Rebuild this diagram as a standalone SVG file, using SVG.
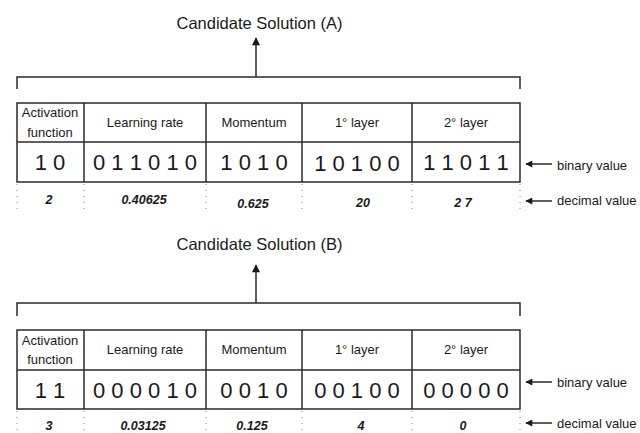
<svg xmlns="http://www.w3.org/2000/svg" width="640" height="433" viewBox="0 0 640 433">
<defs>
<style>
.t{font-family:"Liberation Sans",Arial,sans-serif;fill:#1a1a1a}
.title{font-size:16.5px;text-anchor:middle}
.hd{font-size:13px;text-anchor:middle}
.bin{font-size:22px;text-anchor:middle}
.dec{font-size:12.5px;font-weight:bold;font-style:italic;text-anchor:middle}
.lab{font-size:13px}
.ln{stroke:#2a2a2a;stroke-width:1.5;fill:none}
.dot{stroke:#888;stroke-width:1;stroke-dasharray:1 5;fill:none}
</style>
<marker id="ah" viewBox="0 0 10 10" refX="9" refY="5" markerWidth="9" markerHeight="7" markerUnits="userSpaceOnUse" orient="auto">
<path d="M0,0 L10,5 L0,10 z" fill="#1a1a1a"/>
</marker>
<marker id="ah2" viewBox="0 0 10 10" refX="9" refY="5" markerWidth="11" markerHeight="8" markerUnits="userSpaceOnUse" orient="auto">
<path d="M0,0 L10,5 L0,10 z" fill="#1a1a1a"/>
</marker>
</defs>

<g id="solutionA">
<text class="t title" x="259.5" y="29">Candidate Solution (A)</text>
<g id="tableA">
<rect class="ln" x="17" y="103" width="503" height="79"/>
<line class="ln" x1="17" y1="142" x2="520" y2="142"/>
<line class="ln" x1="84" y1="103" x2="84" y2="182"/>
<line class="ln" x1="206" y1="103" x2="206" y2="182"/>
<line class="ln" x1="302" y1="103" x2="302" y2="182"/>
<line class="ln" x1="412" y1="103" x2="412" y2="182"/>
<text class="t hd" x="50" y="117">Activation</text>
<text class="t hd" x="50" y="137">function</text>
<text class="t hd" x="145" y="127">Learning rate</text>
<text class="t hd" x="254" y="127">Momentum</text>
<text class="t hd" x="357" y="127">1° layer</text>
<text class="t hd" x="466" y="127">2° layer</text>
<text class="t bin" x="50" y="170">1 0</text>
<text class="t bin" x="145" y="170">0 1 1 0 1 0</text>
<text class="t bin" x="254" y="170">1 0 1 0</text>
<text class="t bin" x="357" y="171">1 0 1 0 0</text>
<text class="t bin" x="466" y="170">1 1 0 1 1</text>
</g>
<g id="decimalsA">
<text class="t dec" x="49" y="204">2</text>
<text class="t dec" x="144" y="204">0.40625</text>
<text class="t dec" x="253" y="208">0.625</text>
<text class="t dec" x="363" y="207">20</text>
<text class="t dec" x="463" y="207">2 7</text>
</g>
</g>

<g id="solutionB">
<text class="t title" x="259.5" y="250">Candidate Solution (B)</text>
<g id="tableB">
<rect class="ln" x="17" y="330" width="503" height="79"/>
<line class="ln" x1="17" y1="370" x2="520" y2="370"/>
<line class="ln" x1="84" y1="330" x2="84" y2="409"/>
<line class="ln" x1="206" y1="330" x2="206" y2="409"/>
<line class="ln" x1="302" y1="330" x2="302" y2="409"/>
<line class="ln" x1="412" y1="330" x2="412" y2="409"/>
<text class="t hd" x="50" y="345">Activation</text>
<text class="t hd" x="50" y="364">function</text>
<text class="t hd" x="145" y="354">Learning rate</text>
<text class="t hd" x="254" y="354">Momentum</text>
<text class="t hd" x="357" y="354">1° layer</text>
<text class="t hd" x="466" y="354">2° layer</text>
<text class="t bin" x="50" y="398">1 1</text>
<text class="t bin" x="145" y="398">0 0 0 0 1 0</text>
<text class="t bin" x="254" y="398">0 0 1 0</text>
<text class="t bin" x="357" y="398">0 0 1 0 0</text>
<text class="t bin" x="466" y="398">0 0 0 0 0</text>
</g>
<g id="decimalsB">
<text class="t dec" x="49" y="430">3</text>
<text class="t dec" x="143" y="430">0.03125</text>
<text class="t dec" x="252" y="430">0.125</text>
<text class="t dec" x="361" y="430">4</text>
<text class="t dec" x="463" y="430">0</text>
</g>
</g>

<g id="labels">
<text class="t lab" x="557" y="170">binary value</text>
<text class="t lab" x="557" y="205">decimal value</text>
<text class="t lab" x="557" y="387">binary value</text>
<text class="t lab" x="557" y="428">decimal value</text>
</g>

<g id="connectors">
<path class="ln" d="M17,89 V77 H520 V89"/>
<line class="ln" x1="256" y1="77" x2="256" y2="38" marker-end="url(#ah2)"/>
<path class="ln" d="M17,316 V303 H520 V316"/>
<line class="ln" x1="256" y1="303" x2="256" y2="265" marker-end="url(#ah2)"/>
<line class="ln" x1="552" y1="164" x2="526" y2="164" marker-end="url(#ah)"/>
<line class="ln" x1="552" y1="201" x2="526" y2="201" marker-end="url(#ah)"/>
<line class="ln" x1="552" y1="382" x2="526" y2="382" marker-end="url(#ah)"/>
<line class="ln" x1="552" y1="423" x2="526" y2="423" marker-end="url(#ah)"/>
<g class="dot">
<path d="M17,184 V212 M84,184 V212 M206,184 V212 M302,184 V212 M412,184 V212 M520,184 V212"/>
<path d="M17,411 V433 M84,411 V433 M206,411 V433 M302,411 V433 M412,411 V433 M520,411 V433"/>
</g>
</g>
</svg>
